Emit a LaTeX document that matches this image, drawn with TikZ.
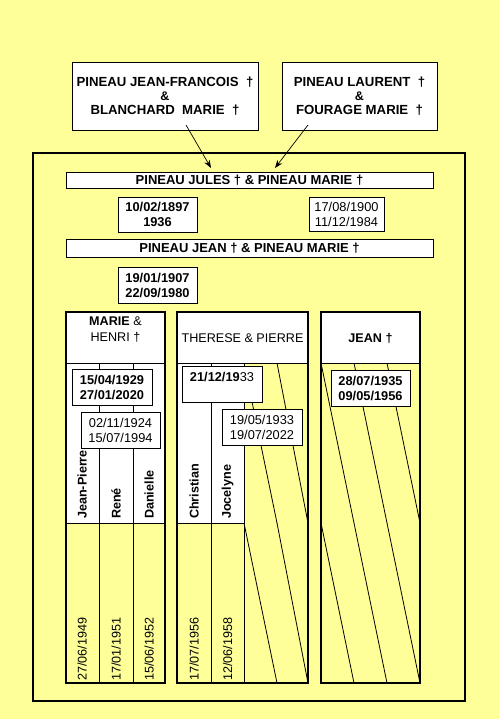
\documentclass[tikz,border=0pt]{standalone}
\usepackage{fontspec}
\setmainfont{Liberation Sans}
\usetikzlibrary{arrows.meta}
\definecolor{bgyellow}{RGB}{255,255,153}
\begin{document}
\begin{tikzpicture}[x=1pt,y=-1pt,
  thinl/.style={line width=0.8pt},
  thickl/.style={line width=2.6pt},
  box/.style={draw,line width=0.8pt,fill=white,inner sep=0pt,align=center},
  topbox/.style={box,minimum height=68pt,font=\fontsize{13.2}{14}\selectfont\bfseries},
  bar/.style={box,minimum width=367pt,font=\fontsize{13}{15}\selectfont\bfseries},
  datebox/.style={box,minimum width=79pt,minimum height=36pt,font=\fontsize{12.8}{15}\selectfont},
  hdr/.style={inner sep=0pt,align=center,font=\fontsize{12.6}{16}\selectfont},
  vname/.style={inner sep=0pt,rotate=90,anchor=west,font=\fontsize{12.6}{14}\selectfont\bfseries},
  vdate/.style={inner sep=0pt,rotate=90,anchor=west,font=\fontsize{12.6}{14}\selectfont},
  arr/.style={line width=0.7pt,-{Stealth[length=8pt,width=6pt]}}
]
\useasboundingbox (0,0) rectangle (499,719);
\fill[bgyellow] (0,0) rectangle (499,719);

% top boxes
\node[topbox,minimum width=186pt] (lbox) at (165,96)
  {PINEAU JEAN-FRANCOIS~~†\\{\fontsize{12.5}{14}\selectfont \&}\\BLANCHARD~~MARIE~~†};
\node[topbox,minimum width=155pt] (rbox) at (359.5,96)
  {PINEAU LAURENT~~†\\{\fontsize{12.5}{14}\selectfont \&}\\FOURAGE MARIE~~†};

% outer frame
\draw[thickl] (33,153) rectangle (465,701);

% arrows
\coordinate (a1s) at (186,125);
\coordinate (a1e) at (211,168);
\coordinate (a2s) at (308,125);
\coordinate (a2e) at (275,168);
\draw[arr] (a1s) -- (a1e);
\draw[arr] (a2s) -- (a2e);

% bars
\node[bar,minimum height=16pt] (jules) at (249.5,180) {PINEAU JULES † \& PINEAU MARIE †};
\node[bar,minimum height=18pt] (jean) at (249.5,248) {PINEAU JEAN † \& PINEAU MARIE †};

% upper date boxes
\node[datebox,minimum height=35pt,font=\fontsize{12.8}{15}\selectfont\bfseries] (d1) at (157.5,214.5) {10/02/1897\\1936};
\node[datebox,minimum width=75pt,minimum height=34pt] (d2) at (346.5,214) {17/08/1900\\11/12/1984};
\node[datebox,font=\fontsize{12.8}{15}\selectfont\bfseries] (d3) at (157.5,285) {19/01/1907\\22/09/1980};

% ---- column 1
\fill[white] (66,312) rectangle (165,523);
\draw[thinl] (66,363) -- (165,363);
\draw[thinl] (99,363) -- (99,683);
\draw[thinl] (133,363) -- (133,683);
\draw[thinl] (66,523) -- (165,523);
\draw[thickl] (66,312) rectangle (165,683);
\node[hdr] (h1) at (115.5,330) {\textbf{MARIE} \&\\HENRI †};

% ---- column 2
\fill[white] (177,312) rectangle (308,363);
\fill[white] (177,363) rectangle (244,523);
\draw[thinl] (177,363) -- (308,363);
\draw[thinl] (211,363) -- (211,683);
\draw[thinl] (244,363) -- (244,683);
\draw[thinl] (177,523) -- (244,523);
\draw[thinl] (244,363) -- (277,523);
\draw[thinl] (277,363) -- (308,523);
\draw[thinl] (244,523) -- (277,683);
\draw[thinl] (277,523) -- (308,683);
\draw[thickl] (177,312) rectangle (308,683);
\node[hdr] (h2) at (242.5,338) {THERESE \& PIERRE};

% ---- column 3
\fill[white] (321,312) rectangle (420,363);
\draw[thinl] (321,363) -- (420,363);
\foreach \x in {321,354,387}{
  \draw[thinl] (\x,363) -- (\x+33,523);
  \draw[thinl] (\x,523) -- (\x+33,683);
}
\draw[thickl] (321,312) rectangle (420,683);
\node[hdr,font=\fontsize{12.6}{16}\selectfont\bfseries] (h3) at (370.5,338) {JEAN †};

% names
\node[vname] (n1) at (82,519) {Jean-Pierre};
\node[vname] (n2) at (116,519) {René};
\node[vname] (n3) at (149,519) {Danielle};
\node[vname] (n4) at (194,519) {Christian};
\node[vname] (n5) at (227.5,519) {Jocelyne};

% birth dates
\node[vdate] (b1) at (82,681) {27/06/1949};
\node[vdate] (b2) at (116,681) {17/01/1951};
\node[vdate] (b3) at (149,681) {15/06/1952};
\node[vdate] (b4) at (194,681) {17/07/1956};
\node[vdate] (b5) at (227.5,681) {12/06/1958};

% column date boxes
\node[datebox,minimum width=80pt,font=\fontsize{12.8}{15}\selectfont\bfseries] (c1a) at (112,387) {15/04/1929\\27/01/2020};
\node[datebox] (c1b) at (120.5,430) {02/11/1924\\15/07/1994};
\node[datebox,minimum width=80pt] (c2a) at (222,384) {\textbf{21/12/19}33\\\mbox{}};
\node[datebox,minimum width=80pt] (c2b) at (262,427) {19/05/1933\\19/07/2022};
\node[datebox,font=\fontsize{12.8}{15}\selectfont\bfseries] (c3a) at (370.5,388) {28/07/1935\\09/05/1956};
\end{tikzpicture}
\end{document}
